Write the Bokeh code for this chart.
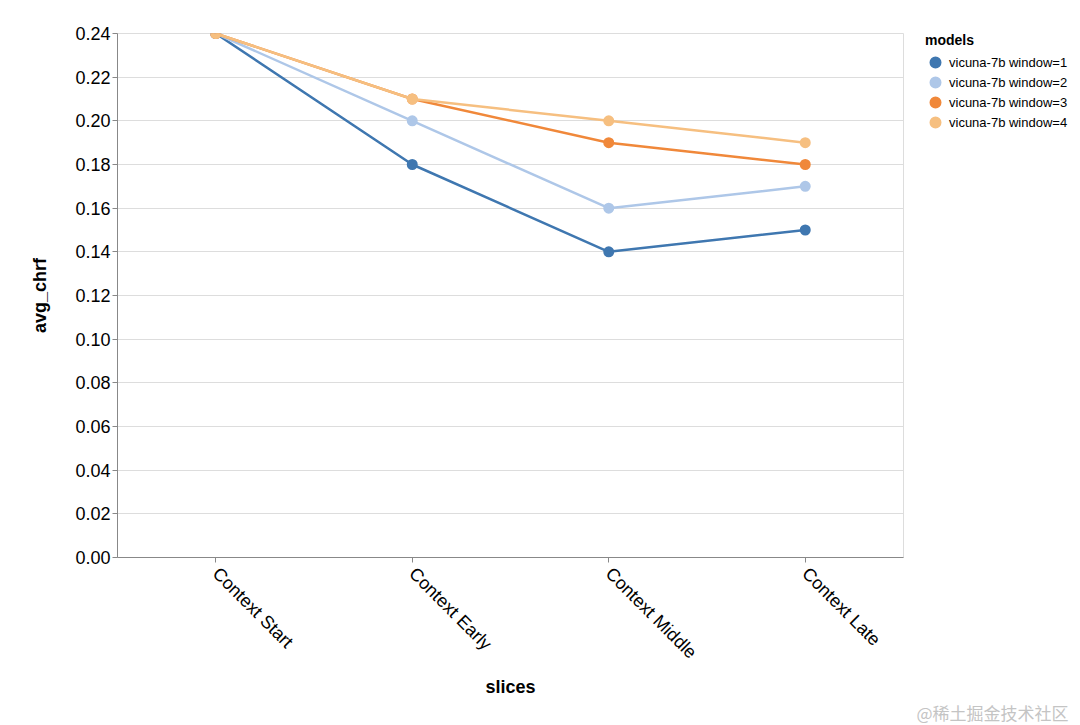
import math
from bokeh.plotting import figure
from bokeh.models import Legend, LegendItem, FactorRange, Range1d, FixedTicker, Title, CustomJSTickFormatter
from bokeh.embed import file_html
from bokeh.resources import INLINE

slices = ["Context Start", "Context Early", "Context Middle", "Context Late"]
models = ["vicuna-7b window=1", "vicuna-7b window=2", "vicuna-7b window=3", "vicuna-7b window=4"]
w1 = [0.24, 0.18, 0.14, 0.15]
w2 = [0.24, 0.20, 0.16, 0.17]
w3 = [0.24, 0.21, 0.19, 0.18]
w4 = [0.24, 0.21, 0.20, 0.19]
series = [w1, w2, w3, w4]
colors = ["#3f77b0", "#aec7e8", "#f0883a", "#f6bf80"]
y_ticks = [0.0, 0.02, 0.04, 0.06, 0.08, 0.10, 0.12, 0.14, 0.16, 0.18, 0.20, 0.22, 0.24]

FONT = "Liberation Sans"

p = figure(x_range=FactorRange(*slices, range_padding=0), y_range=Range1d(0, 0.24),
           frame_width=786, frame_height=524,
           min_border_left=117, min_border_top=33, min_border_bottom=140, min_border_right=169,
           output_backend="svg", toolbar_location=None)

p.outline_line_color = "#dddddd"
p.xgrid.grid_line_color = None
p.ygrid.grid_line_color = "#dddddd"
p.ygrid.grid_line_width = 1

for ax in (p.xaxis[0], p.yaxis[0]):
    ax.axis_line_color = "#888888"
    ax.major_tick_line_color = "#888888"
    ax.major_tick_out = 5
    ax.major_tick_in = 0
    ax.minor_tick_line_color = None
    ax.major_label_text_font = FONT
    ax.major_label_text_font_size = "18px"
    ax.major_label_text_color = "#000000"
    ax.axis_label_text_font = FONT
    ax.axis_label_text_font_size = "18px"
    ax.axis_label_text_font_style = "bold"
    ax.axis_label_text_color = "#000000"
    ax.major_label_standoff = 2

p.yaxis.ticker = FixedTicker(ticks=y_ticks)
p.yaxis.formatter = CustomJSTickFormatter(code="return tick.toFixed(2);")
p.yaxis.axis_label = "avg_chrf"
p.yaxis.axis_label_standoff = 22
p.xaxis.axis_label = "slices"
p.xaxis.major_label_standoff = 8
p.xaxis.axis_label_standoff = 4
p.xaxis.major_label_orientation = -math.pi / 4

items = []
for name, vals, c in zip(models, series, colors):
    p.line(slices, vals, line_color=c, line_width=2.5)
    r = p.scatter(slices, vals, size=7, fill_color=c, line_color=c, line_width=4)
    items.append(LegendItem(label=name, renderers=[r]))

legend = Legend(items=items, title="models", location=(22, 425),
                margin=0, padding=0, spacing=0,
                glyph_height=20, glyph_width=20, label_height=20,
                label_standoff=4, title_standoff=4,
                border_line_color=None, background_fill_alpha=0)
legend.title_text_font = FONT
legend.title_text_font_size = "14px"
legend.title_text_font_style = "bold"
legend.title_text_color = "#000000"
legend.label_text_font = FONT
legend.label_text_font_size = "13px"
legend.label_text_color = "#000000"
p.add_layout(legend, "right")

wm = Title(text="@稀土掘金技术社区", align="right", text_font="Noto Sans CJK SC",
           text_font_size="17px", text_font_style="normal", text_color="#c4c4c4",
           standoff=0, offset=-165, vertical_align="top", text_line_height=0.6)
p.add_layout(wm, "below")

open("out.html", "w").write(file_html(p, INLINE))
